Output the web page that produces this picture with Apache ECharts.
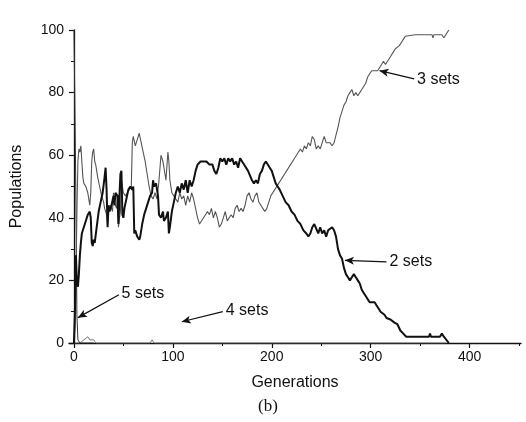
<!DOCTYPE html>
<html>
<head>
<meta charset="utf-8">
<script src="https://cdn.jsdelivr.net/npm/echarts@6/dist/echarts.min.js"></script>
<style>html,body{margin:0;padding:0;background:#fff}#c{width:526px;height:422px}</style>
</head>
<body>
<div id="c"></div>
<script>
// ---- data ----
var twoGen = [0,1,2,3,4,5,6,7,8,9,10,12,14,16,17,18,19,20,21,23,25,27,29,31,32,33,34,35,36,38,40,41,42,44,45,46,47,48,49,50,51,53,55,57,59,60,61,62,64,66,67,69,71,73,75,77,79,80,81,83,85,86,88,90,91,93,95,96,97,99,101,103,105,107,109,111,113,115,117,119,121,123,125,128,131,134,137,140,142,144,146,148,150,152,154,156,158,160,162,164,166,168,170,172,174,176,178,180,182,184,186,188,190,192,194,196,198,200,202,204,206,208,211,214,217,220,223,226,229,232,235,237,239,241,243,245,247,249,251,253,255,257,259,261,263,265,267,269,271,273,275,277,279,281,283,285,287,289,291,293,295,297,299,301,304,306,308,310,312,314,316,320,324,327,330,333,336,340,345,350,355,359,360,361,366,370,372,374,376,379];
var twoVal = [0,10,28,19,18,22,28,32,35,36,37,39,41,42,40,32,31,33,32,37,42,45,48,53,56,49,37,44,42,44,47,44,48,47,38,47,54,55,41,40,43,46,49,50,49,50,35,36,34,33,34,38,41,43,45,47,48,52,50,51,47,41,40,42,39,40,42,35,37,42,45,48,50,48,51,49,52,48,52,50,52,55,57,58,58,58,57,57,55,54,56,59,58,59,57,59,58,59,57,58,56,59,58,57,57,55,55,52,51,52,51,54,55,57,58,57,56,55,53,51,50,49,47,45,44,42,41,39,38,36,35,34,35,37,38,38,35,37,35,36,34,36,36,37,36,34,30,28,27,24,22,21,20,21,22,21,20,19,17,16,15,14,13,13,13,12,11,10,10,9,8,7.5,6.5,6,4,3,2,2,2,2,2,2,3,2,2,2,3,2,2,0];

var threeGen = [0,1,2,3,4,5,6,7,8,9,10,12,14,15,16,17,18,19,20,21,22,24,26,28,30,31,33,34,35,37,39,40,41,43,44,45,46,47,48,50,52,54,56,58,59,60,62,64,66,68,70,72,74,76,78,80,82,84,86,88,90,91,93,95,96,97,99,101,103,105,107,109,111,113,115,117,119,121,123,125,127,129,131,133,135,137,139,141,143,145,147,149,151,153,155,157,159,161,163,165,167,169,171,173,175,177,179,181,183,185,187,189,191,193,195,197,199,201,203,205,207,209,211,213,215,217,219,221,223,225,227,229,231,233,235,237,239,241,243,245,247,249,251,253,255,257,259,261,263,265,267,269,271,273,275,277,279,281,283,285,287,289,291,293,295,297,299,301,304,307,309,311,313,315,317,319,321,323,325,327,329,331,333,335,337,345,355,362,363,364,372,374,376,379];
var threeVal = [0,5,20,42,58,62,61,63,58,53,51,50,48,46,44,48,58,61,62,58,57,53,50,47,45,43,41,38,42,44,42,48,45,43,46,37,40,42,52,48,47,48,49,50,64,66,63,65,67,64,61,58,54,50,47,46,48,46,52,60,58,56,52,61,58,52,48,47,46,45,48,46,47,44,47,45,48,46,43,40,38,38,40,41,42,41,43,40,42,40,37,38,40,42,39,40,41,40,43,44,42,43,42,44,47,48,46,45,47,48,45,44,43,42,43,45,47,48,49,50,51,52,53,54,55,56,57,58,59,60,61,62,61,63,62,64,63,66,65,62,63,62,64,66,64,64,64,63,64,64,69,72,74,76,77,79,80,81,79,80,79,80,81,81,83,85,86,87,87,87,87,89,90,89,90,91,92,93,94,94,95,96,97,98,98.5,98.5,98.5,98.5,97.5,98.5,98.5,97.5,98.5,100];

var fourGen = [0,6,8,10,12,14,16,18,20,22,77,79,81,376];
var fourVal = [0,0,0.5,1,1.5,2,1,0.5,1,0,0,1,0,0];

var fiveGen = [0,1,2,3,4,6,20];
var fiveVal = [100,75,45,9,1,0,0];

var xTickLabels = [0,100,200,300,400];
var xMinorTicks = [50,150,250,350,450];

// annotation arrows: [label, textSide gen, textSide val, tip gen, tip val]
var notes = [
  ['3 sets', 344, 84.4, 309, 87.0],
  ['2 sets', 316, 25.9, 274, 26.4],
  ['5 sets', 45.5, 15.4, 4, 8.1],
  ['4 sets', 150.5, 10, 109, 6.8]
];

function pairs(g, v){ return g.map(function(x,i){ return [x, v[i]]; }); }

var FONT = '"Liberation Sans", Arial, sans-serif';
var chart = echarts.init(document.getElementById('c'), null, {renderer:'canvas'});
chart.setOption({
  animation: false,
  backgroundColor: '#fff',
  grid: {left: 69, right: 5, top: 30, bottom: 79},
  xAxis: [{
    type: 'value', min: -5, max: 452,
    name: 'Generations', nameLocation: 'middle', nameGap: 32,
    nameTextStyle: {fontSize: 16, color: '#111', fontFamily: FONT},
    axisLine: {show: true, onZero: false, lineStyle: {color: '#111', width: 1.3}},
    axisTick: {show: true, customValues: xTickLabels, length: 5, lineStyle: {color: '#111', width: 1.2}},
    axisLabel: {customValues: xTickLabels, fontSize: 14, color: '#111', margin: 7, fontFamily: FONT},
    splitLine: {show: false}
  }, {
    type: 'value', min: -5, max: 452, position: 'bottom',
    axisLine: {show: false},
    axisTick: {show: true, customValues: xMinorTicks, length: 3, lineStyle: {color: '#111', width: 1}},
    axisLabel: {show: false},
    splitLine: {show: false}
  }],
  yAxis: {
    type: 'value', min: 0, max: 100, interval: 20,
    name: 'Populations', nameLocation: 'middle', nameGap: 44,
    nameTextStyle: {fontSize: 16, color: '#111', fontFamily: FONT},
    axisLine: {show: true, lineStyle: {color: '#111', width: 1.3}},
    axisTick: {show: true, length: 5, lineStyle: {color: '#111', width: 1.2}},
    minorTick: {show: true, splitNumber: 2, length: 3, lineStyle: {color: '#111'}},
    axisLabel: {fontSize: 14, color: '#111', margin: 5, fontFamily: FONT},
    splitLine: {show: false}
  },
  series: [
    {name: '4 sets', type: 'line', showSymbol: false, data: pairs(fourGen, fourVal),
     lineStyle: {color: '#777', width: 1}, z: 2},
    {name: '5 sets', type: 'line', showSymbol: false, data: pairs(fiveGen, fiveVal),
     lineStyle: {color: '#333', width: 1}, z: 2},
    {name: '3 sets', type: 'line', showSymbol: false, data: pairs(threeGen, threeVal),
     lineStyle: {color: '#555', width: 1.1}, z: 3},
    {name: '2 sets', type: 'line', showSymbol: false, data: pairs(twoGen, twoVal),
     lineStyle: {color: '#111', width: 2}, z: 4,
     markLine: {
       silent: true, symbol: ['none', 'arrow'], symbolSize: [6, 9], animation: false,
       lineStyle: {color: '#111', width: 1.2, type: 'solid'},
       label: {show: true, position: 'start', distance: 3, fontSize: 16, color: '#111', fontFamily: FONT},
       data: notes.map(function(n){
         return [{coord: [n[1], n[2]], label: {formatter: n[0]}}, {coord: [n[3], n[4]]}];
       })
     }}
  ],
  graphic: [{
    type: 'text', left: 258, top: 398,
    style: {text: '(b)', fontSize: 17, fill: '#111', fontFamily: '"Liberation Serif", "Times New Roman", serif'}
  }]
});
</script>
</body>
</html>
